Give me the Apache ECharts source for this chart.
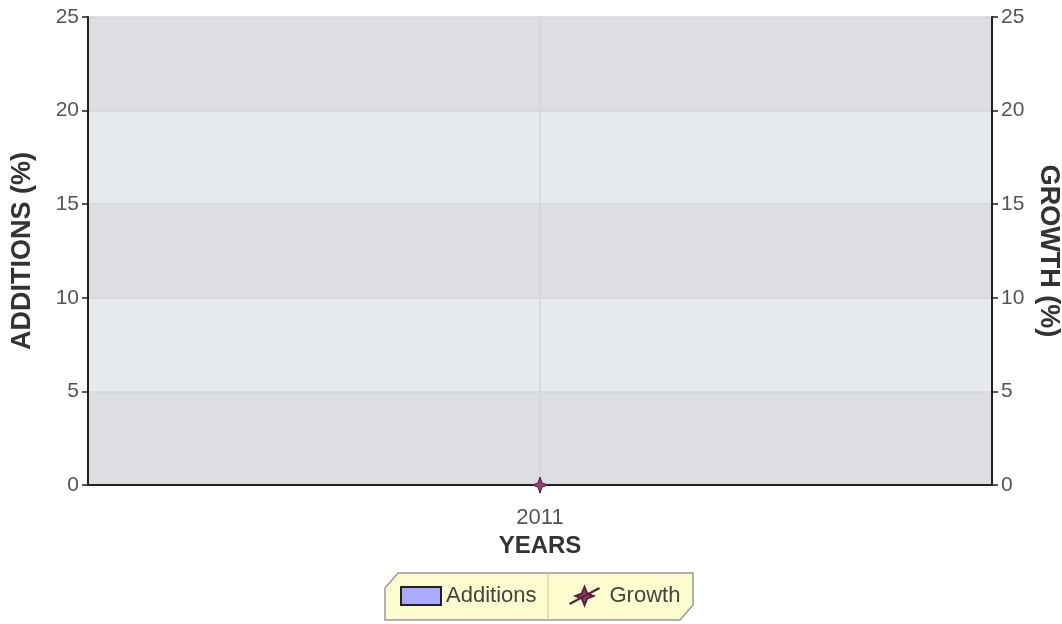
<!DOCTYPE html>
<html><head><meta charset="utf-8">
<script src="https://cdn.jsdelivr.net/npm/echarts@6/dist/echarts.min.js"></script>
<style>html,body{margin:0;padding:0;background:#fff}#c{width:1062px;height:624px}</style>
</head><body><div id="c"></div>
<script>
const categories = ['2011'];
const additions = [0];
const growth = [0];
const yTicks = [0, 5, 10, 15, 20, 25];

const chart = echarts.init(document.getElementById('c'));
const starPath = 'path://M0,-10 L2.6,-2.6 L10,0 L2.6,2.6 L0,10 L-2.6,2.6 L-10,0 L-2.6,-2.6 Z';
const font = 'Liberation Sans';
const yAxisCommon = {
  type: 'value', min: yTicks[0], max: yTicks[yTicks.length - 1], interval: 5,
  axisLine: { show: true, lineStyle: { color: '#222', width: 2 } },
  axisTick: { show: true, length: 6, lineStyle: { color: '#222', width: 1.5 } },
  axisLabel: { color: '#555', fontSize: 21, fontFamily: font, margin: 9 },
  nameLocation: 'middle',
  nameTextStyle: { color: '#333', fontSize: 27, fontWeight: 'bold', fontFamily: font }
};
chart.setOption({
  animation: false,
  grid: { left: 88, right: 70, top: 17, bottom: 139, containLabel: false, outerBoundsMode: 'none' },
  xAxis: {
    type: 'category', data: categories,
    name: 'YEARS', nameLocation: 'middle', nameGap: 43,
    nameTextStyle: { color: '#333', fontSize: 24, fontWeight: 'bold', fontFamily: font },
    axisLine: { lineStyle: { color: '#222', width: 2 } },
    axisTick: { show: true, alignWithLabel: true, length: 8, lineStyle: { color: '#222', width: 1.5 } },
    axisLabel: { color: '#555', fontSize: 22, fontFamily: font, margin: 22 },
    splitLine: { show: false }
  },
  yAxis: [
    Object.assign({}, yAxisCommon, {
      position: 'left', name: 'ADDITIONS (%)', nameGap: 52, nameRotate: 90,
      splitLine: { show: true, lineStyle: { color: '#d2d5d9', width: 1.5 } },
      splitArea: { show: true, areaStyle: { color: ['#dcdee1', '#e6e9ee'] } }
    }),
    Object.assign({}, yAxisCommon, {
      position: 'right', name: 'GROWTH (%)', nameGap: 36, nameRotate: -90,
      splitLine: { show: false }, splitArea: { show: false }
    })
  ],
  legend: {
    top: 575, left: 384, itemGap: 32, padding: [10, 16, 10, 16],
    itemWidth: 40, itemHeight: 18,
    textStyle: { color: '#444', fontSize: 22, fontFamily: font },
    data: [
      { name: 'Additions', icon: 'rect', itemStyle: { color: '#aaaaff', borderColor: '#222', borderWidth: 2 } },
      { name: 'Growth', icon: 'path://M-15,8 L15,-8 M0,-9 L2.6,-2.6 L9,0 L2.6,2.6 L0,9 L-2.6,2.6 L-9,0 L-2.6,-2.6 Z' }
    ]
  },
  graphic: [
    { type: 'polygon', z: -1, shape: { points: [[398,573],[693,573],[693,605],[680,620],[385,620],[385,588]] },
      style: { fill: '#fdfccf', stroke: '#999', lineWidth: 1.5 } },
    { type: 'line', z: 0, shape: { x1: 548, y1: 574, x2: 548, y2: 619 }, style: { stroke: '#c8c6a8', lineWidth: 1 } }
  ],
  series: [
    { name: 'Additions', type: 'bar', data: additions, yAxisIndex: 0, barWidth: 60,
      itemStyle: { color: '#aaaaff', borderColor: '#222', borderWidth: 2 } },
    { name: 'Growth', type: 'line', data: growth, yAxisIndex: 1, symbol: starPath, symbolSize: 16,
      itemStyle: { color: '#9b3b6e', borderColor: '#5a1e3e', borderWidth: 1 },
      lineStyle: { color: '#9b3b6e', width: 2 }, z: 5,
      markLine: { silent: true, symbol: 'none', label: { show: false }, z: 1,
        lineStyle: { color: '#d2d4d8', width: 1.5, type: 'solid' },
        data: [{ xAxis: categories[0] }] } }
  ]
});
</script></body></html>
